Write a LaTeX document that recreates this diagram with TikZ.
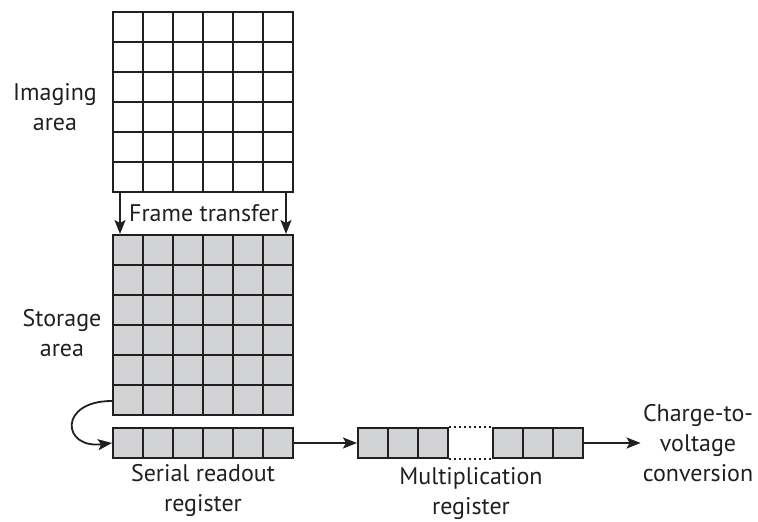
\documentclass[tikz,border=0pt]{standalone}
\usepackage{fontspec}
\setmainfont{PT Sans}
\usetikzlibrary{arrows.meta}
\definecolor{cellgray}{RGB}{209,211,212}
\definecolor{ink}{RGB}{35,31,32}
\begin{document}
\begin{tikzpicture}[x=1pt,y=1pt,
    block/.style={draw=ink,line width=2pt,inner sep=0pt,
      minimum width=180pt,minimum height=180pt},
    gridline/.style={draw=ink,line width=2pt},
    flow/.style={draw=ink,line width=1.8pt,-{Stealth[length=14pt,width=11pt,inset=3pt]}},
    lbl/.style={align=center,inner sep=0pt,text=ink,
      font=\fontsize{24}{30}\selectfont}]
  \useasboundingbox (0,0) rectangle (758,522);
  \def\cs{30}

  % imaging area
  \node[block,fill=white] (img) at (203,420) {};
  \foreach \i in {1,...,5}{
    \draw[gridline] (113+\i*\cs,330) -- ++(0,180);
    \draw[gridline] (113,330+\i*\cs) -- ++(180,0);
  }
  \node[lbl] (imglbl) at (55,415) {Imaging\\area};

  % storage area
  \node[block,fill=cellgray] (sto) at (203,197) {};
  \foreach \i in {1,...,5}{
    \draw[gridline] (113+\i*\cs,107) -- ++(0,180);
    \draw[gridline] (113,107+\i*\cs) -- ++(180,0);
  }
  \node[lbl] (stolbl) at (62,189) {Storage\\area};

  % frame transfer
  \draw[flow] ([xshift=8pt]img.south west) -- ([xshift=8pt]sto.north west);
  \draw[flow] ([xshift=-8pt]img.south east) -- ([xshift=-8pt]sto.north east);
  \node[lbl] (ftlbl) at (204,309) {Frame transfer};

  % serial readout register
  \node[block,fill=cellgray,minimum height=30pt] (ser) at (203,79) {};
  \foreach \i in {1,...,5}
    \draw[gridline] (113+\i*\cs,64) -- ++(0,30);
  \node[lbl] (serlbl) at (203,31) {Serial readout\\register};

  \draw[flow] ([yshift=\cs/2]sto.south west)
    .. controls +(-54,0) and +(-50,-6) .. (ser.west);

  % multiplication register
  \node[block,fill=cellgray,minimum width=90pt,minimum height=30pt] (ml) at (403,79) {};
  \node[block,fill=cellgray,minimum width=90pt,minimum height=30pt] (mr) at (538,79) {};
  \foreach \i in {1,2}{
    \draw[gridline] (358+\i*\cs,64) -- ++(0,30);
    \draw[gridline] (493+\i*\cs,64) -- ++(0,30);
  }
  \draw[ink,line width=2pt,dash pattern=on 2pt off 3pt] (ml.north east) -- (mr.north west);
  \draw[ink,line width=2pt,dash pattern=on 2pt off 3pt] (ml.south east) -- (mr.south west);
  \node[lbl] (mullbl) at (471,28) {Multiplication\\register};

  \draw[flow] (ser.east) -- (ml.west);

  % output
  \node[lbl] (conv) at (698,79) {Charge-to-\\voltage\\conversion};
  \draw[flow] (mr.east) -- ([xshift=-2pt]conv.west);
\end{tikzpicture}
\end{document}
